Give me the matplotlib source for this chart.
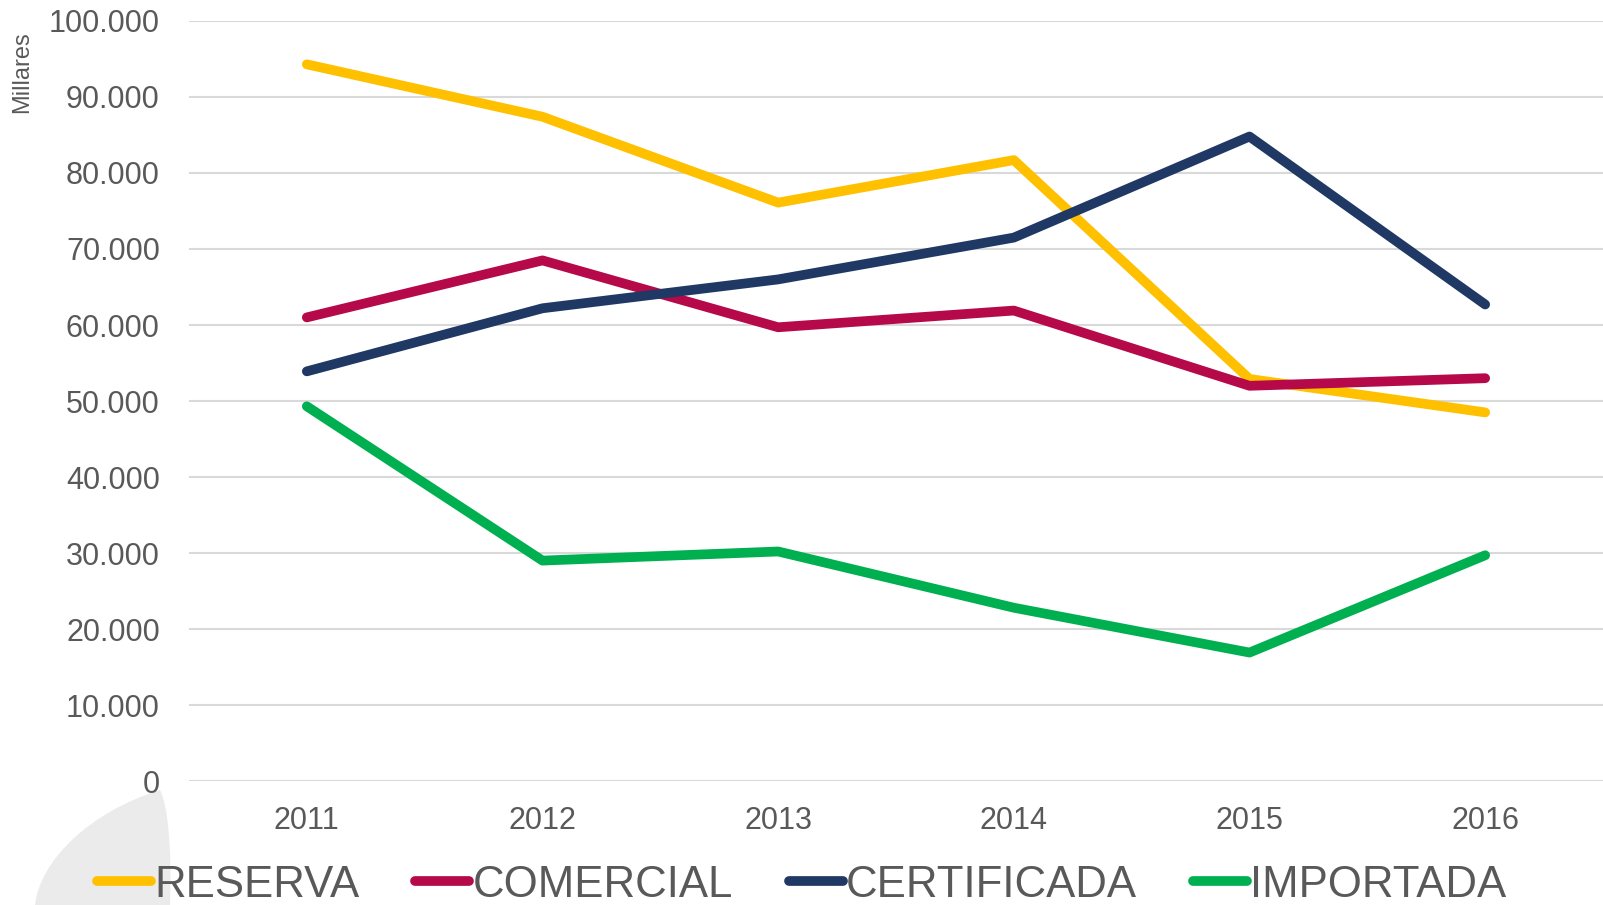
import numpy as np
import matplotlib
matplotlib.use("Agg")
import matplotlib.pyplot as plt
from matplotlib.path import Path
from matplotlib.patches import PathPatch
from matplotlib.ticker import FuncFormatter

plt.rcParams["font.family"] = ["Liberation Sans", "DejaVu Sans"]

# datos (miles)
years = ["2011", "2012", "2013", "2014", "2015", "2016"]
reserva = [94300, 87400, 76100, 81700, 52900, 48500]
comercial = [61000, 68500, 59700, 61900, 52000, 53000]
certificada = [53900, 62200, 66000, 71500, 84800, 62700]
importada = [49300, 29000, 30200, 22800, 16900, 29700]

series = [("RESERVA", reserva, "#FFC000"),
          ("COMERCIAL", comercial, "#B5094A"),
          ("CERTIFICADA", certificada, "#1F3864"),
          ("IMPORTADA", importada, "#00B050")]

txt = "#595959"

fig = plt.figure(figsize=(16.03, 9.05), dpi=100)

# mancha gris decorativa abajo a la izquierda
verts = [(160 / 1603, 1 - 790 / 905),
         (90 / 1603, 1 - 812 / 905), (40 / 1603, 1 - 860 / 905), (35 / 1603, 0.0),
         (170 / 1603, 0.0),
         (172 / 1603, 1 - 850 / 905), (168 / 1603, 1 - 805 / 905), (160 / 1603, 1 - 790 / 905)]
codes = [Path.MOVETO, Path.CURVE4, Path.CURVE4, Path.CURVE4,
         Path.LINETO, Path.CURVE4, Path.CURVE4, Path.CURVE4]
fig.patches.append(PathPatch(Path(verts, codes), transform=fig.transFigure,
                             facecolor="#EBEBEB", edgecolor="none", zorder=-5))

ax = fig.add_axes([189 / 1603, 124 / 905, 1 - 189 / 1603, 760 / 905])
ax.patch.set_alpha(0)

x = np.arange(len(years))
for name, vals, col in series:
    ax.plot(x, vals, color=col, linewidth=7, label=name,
            solid_capstyle="round", solid_joinstyle="round", zorder=3)

ax.set_xlim(-0.5, len(years) - 0.5)
ax.set_ylim(0, 100000)
ax.set_yticks(np.arange(0, 100001, 10000))
ax.yaxis.set_major_formatter(FuncFormatter(lambda v, p: f"{int(v):,}".replace(",", ".")))
ax.set_xticks(x)
ax.set_xticklabels(years)
ax.grid(axis="y", color="#D9D9D9", linewidth=1.5)
ax.set_axisbelow(True)
for s in ax.spines.values():
    s.set_visible(False)
ax.tick_params(axis="both", length=0, labelsize=22, labelcolor=txt)
ax.tick_params(axis="y", pad=21)
ax.tick_params(axis="x", pad=18)

fig.text(22 / 1603, 1 - 72 / 905, "Millares", rotation=90, fontsize=17,
         color=txt, ha="center", va="center")

leg = fig.legend(loc="center", bbox_to_anchor=(0.5, 0.022), ncol=4, frameon=False,
                 fontsize=31.5, handlelength=1.24, handletextpad=0.07,
                 columnspacing=1.28, borderpad=0)
for t in leg.get_texts():
    t.set_color(txt)

fig.savefig("out.png", dpi=100)
